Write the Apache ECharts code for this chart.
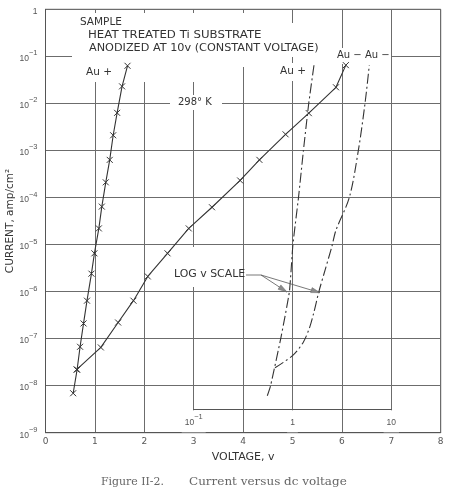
<!DOCTYPE html>
<html>
<head>
<meta charset="utf-8">
<script src="https://cdn.jsdelivr.net/npm/echarts@6/dist/echarts.min.js"></script>
<style>
  html, body { margin: 0; padding: 0; background: #fff; }
  #main { width: 449px; height: 496px; }
</style>
</head>
<body>
<div id="main"></div>
<script>
// linear voltage scale, Au+ (left curve, x markers)
var auPlusV = [0.56, 0.64, 0.70, 0.77, 0.84, 0.93, 0.99, 1.08, 1.14, 1.22, 1.30, 1.37, 1.45, 1.55, 1.66];
var auPlusI = [6.9e-9, 2.2e-8, 6.7e-8, 2.1e-7, 6.4e-7, 2.4e-6, 6.5e-6, 2.2e-5, 6.4e-5, 2.1e-4, 6.3e-4, 2.1e-3, 6.3e-3, 2.3e-2, 6.3e-2];
// linear voltage scale, Au- (x markers)
var auMinusV = [0.63, 1.12, 1.47, 1.78, 2.07, 2.47, 2.90, 3.37, 3.94, 4.33, 4.86, 5.33, 5.88, 6.08];
var auMinusI = [2.2e-8, 6.5e-8, 2.2e-7, 6.4e-7, 2.1e-6, 6.5e-6, 2.2e-5, 6.2e-5, 2.3e-4, 6.3e-4, 2.2e-3, 6.2e-3, 2.2e-2, 6.5e-2];
// log v scale, Au+ (dash-dot)
var logAuPlusV = [0.556, 0.60, 0.76, 0.93, 1.01, 1.15, 1.29, 1.46, 1.65];
var logAuPlusI = [6.1e-9, 1e-8, 1e-7, 1e-6, 1e-5, 1e-4, 1e-3, 1e-2, 6.5e-2];
// log v scale, Au- (dash-dot)
var logAuMinusV = [0.665, 1.02, 1.29, 1.50, 1.65, 1.85, 2.14, 2.5, 2.75, 3.76, 4.64, 5.42, 5.99];
var logAuMinusI = [2.4e-8, 4.5e-8, 8.5e-8, 1.8e-7, 3.7e-7, 1.0e-6, 2.9e-6, 9e-6, 2.0e-5, 1e-4, 1e-3, 1e-2, 6.5e-2];

var voltTicks = ['0', '1', '2', '3', '4', '5', '6', '7', '8'];

function zip(a, b) {
  return a.map(function (v, i) { return [v, b[i]]; });
}

var txt = '#333';
var grid = '#6c6c6c';
var crossMark = 'path://M0 0L10 10M10 0L0 10';

function powLabel(v) {
  var e = Math.round(Math.log(v) / Math.LN10);
  if (e === 0) return '{b|1}';
  if (e === 1) return '{b|10}';
  return '{b|10}{s|' + (e < 0 ? '\u2212' : '') + Math.abs(e) + '}';
}
var powRich = {
  b: { fontSize: 8.5, color: '#555', fontFamily: 'Liberation Sans', lineHeight: 14, verticalAlign: 'bottom' },
  s: { fontSize: 7.5, color: '#555', fontFamily: 'Liberation Sans', lineHeight: 14, verticalAlign: 'top' }
};

function label(text, x, y, size, extra) {
  var el = {
    type: 'text', x: x, y: y, z: 10, silent: true,
    style: {
      text: text, fill: txt, font: size + 'px "DejaVu Sans"',
      align: 'left', textAlign: 'left', verticalAlign: 'middle', textVerticalAlign: 'middle'
    }
  };
  if (extra) for (var k in extra) el[k] = extra[k];
  return el;
}
function mask(x, y, w, h) {
  return { type: 'rect', z: 1, silent: true, shape: { x: x, y: y, width: w, height: h }, style: { fill: '#fff' } };
}
function seg(x1, y1, x2, y2) {
  return { type: 'line', z: 10, silent: true, shape: { x1: x1, y1: y1, x2: x2, y2: y2 }, style: { stroke: '#555', lineWidth: 0.8 } };
}
function head(x1, y1, x2, y2) {
  // arrowhead at (x2,y2) pointing away from (x1,y1)
  var dx = x2 - x1, dy = y2 - y1, l = Math.sqrt(dx * dx + dy * dy);
  var ux = dx / l, uy = dy / l, L = 9, W = 2.6;
  var bx = x2 - ux * L, by = y2 - uy * L;
  return { type: 'polygon', z: 10, silent: true,
    shape: { points: [[x2, y2], [bx - uy * W, by + ux * W], [bx + uy * W, by - ux * W]] },
    style: { fill: '#8a8a8a', stroke: '#666', lineWidth: 0.5 } };
}

var chart = echarts.init(document.getElementById('main'), null, { renderer: 'canvas' });

var options = {
  backgroundColor: '#fff',
  animation: false,
  grid: [
    { left: 45.5, right: 8.3, top: 9.3, bottom: 63.3, show: true, borderColor: '#555', borderWidth: 1, outerBoundsMode: 'none' },
    { left: 193.7, right: 57.7, top: 9.3, bottom: 63.3, outerBoundsMode: 'none' }
  ],
  xAxis: [
    {
      type: 'value', gridIndex: 0, min: 0, max: 8, interval: 1,
      name: 'VOLTAGE, v', nameLocation: 'middle', nameGap: 19, nameMoveOverlap: false,
      nameTextStyle: { fontSize: 11, color: txt, fontFamily: 'DejaVu Sans' },
      axisLine: { show: true, lineStyle: { color: '#555', width: 1 } },
      axisTick: { show: false },
      axisLabel: { margin: 4, fontSize: 9, color: '#555', fontFamily: 'DejaVu Sans',
        formatter: function (v) { return voltTicks[Math.round(v)]; } },
      splitLine: { show: true, lineStyle: { color: grid, width: 1 } }
    },
    {
      type: 'log', gridIndex: 1, min: 0.1, max: 10, logBase: 10, position: 'bottom', offset: -23.4, z: 1,
      axisLine: { show: true, lineStyle: { color: '#555', width: 1 } },
      axisTick: { show: false },
      splitLine: { show: false },
      axisLabel: { margin: 1, formatter: powLabel, rich: powRich, backgroundColor: '#fff', padding: [3, 3, 5, 3],
        showMinLabel: true, showMaxLabel: true }
    }
  ],
  yAxis: [
    {
      type: 'log', gridIndex: 0, min: 1e-9, max: 1, logBase: 10, splitNumber: 10,
      name: 'CURRENT, amp/cm\u00b2', nameLocation: 'middle', nameGap: 30, nameMoveOverlap: false,
      nameTextStyle: { fontSize: 10.5, color: txt, fontFamily: 'DejaVu Sans' },
      axisLine: { show: true, lineStyle: { color: '#555', width: 1 } },
      axisTick: { show: false },
      axisLabel: { margin: 8, formatter: powLabel, rich: powRich },
      splitLine: { show: true, lineStyle: { color: grid, width: 1 } }
    },
    { type: 'log', gridIndex: 1, min: 1e-9, max: 1, logBase: 10, show: false }
  ],
  series: [
    {
      name: 'Au+', type: 'line', xAxisIndex: 0, yAxisIndex: 0, data: zip(auPlusV, auPlusI),
      symbol: crossMark, symbolSize: 6, showSymbol: true,
      itemStyle: { color: '#333', borderColor: '#333', borderWidth: 1 },
      lineStyle: { color: '#333', width: 1.1 }
    },
    {
      name: 'Au-', type: 'line', xAxisIndex: 0, yAxisIndex: 0, data: zip(auMinusV, auMinusI),
      symbol: crossMark, symbolSize: 6, showSymbol: true,
      itemStyle: { color: '#333', borderColor: '#333', borderWidth: 1 },
      lineStyle: { color: '#333', width: 1.1 }
    },
    {
      name: 'Au+ log v', type: 'line', xAxisIndex: 1, yAxisIndex: 1, data: zip(logAuPlusV, logAuPlusI),
      symbol: 'none', smooth: 0.15,
      lineStyle: { color: '#333', width: 1.1, type: [10, 3, 2, 3] }
    },
    {
      name: 'Au- log v', type: 'line', xAxisIndex: 1, yAxisIndex: 1, data: zip(logAuMinusV, logAuMinusI),
      symbol: 'none', smooth: 0.3,
      lineStyle: { color: '#333', width: 1.1, type: [10, 3, 2, 3] }
    }
  ],
  graphic: { elements: [
    // white patches behind lettering, as on the original sheet
    mask(72, 13, 178, 54),
    mask(72, 67, 163, 15),
    mask(250, 23, 75, 34),
    mask(276, 63, 34, 18),
    mask(325, 48, 66, 16),
    mask(170, 95, 52, 15),
    mask(168, 247, 72, 40),
    label('SAMPLE', 80, 22, 10.5),
    label('HEAT TREATED Ti SUBSTRATE', 88, 35, 10.5, { scaleX: 1.12 }),
    label('ANODIZED AT 10v (CONSTANT VOLTAGE)', 89, 48, 10.5, { scaleX: 1.07 }),
    label('Au +', 86, 72, 10.5),
    label('Au +', 280, 71, 10.5),
    label('Au \u2212 Au \u2212', 337, 55, 10),
    label('298\u00b0 K', 178, 102, 10),
    label('LOG v SCALE', 174, 274, 10.5, { scaleX: 1.04 }),
    seg(246, 275, 261, 275),
    seg(261, 275, 287, 292),
    seg(261, 275, 320, 292.7),
    head(261, 275, 287, 292),
    head(261, 275, 320, 292.7),
    { type: 'text', x: 101, y: 482, z: 10, silent: true, scaleX: 1.04,
      style: { text: 'Figure II-2.', fill: '#666', font: '10.5px "DejaVu Serif"', align: 'left', verticalAlign: 'middle', textAlign: 'left', textVerticalAlign: 'middle' } },
    { type: 'text', x: 189, y: 482, z: 10, silent: true, scaleX: 1.14,
      style: { text: 'Current versus dc voltage', fill: '#666', font: '10.5px "DejaVu Serif"', align: 'left', verticalAlign: 'middle', textAlign: 'left', textVerticalAlign: 'middle' } }
  ] }
};

chart.setOption(options);
</script>
</body>
</html>
